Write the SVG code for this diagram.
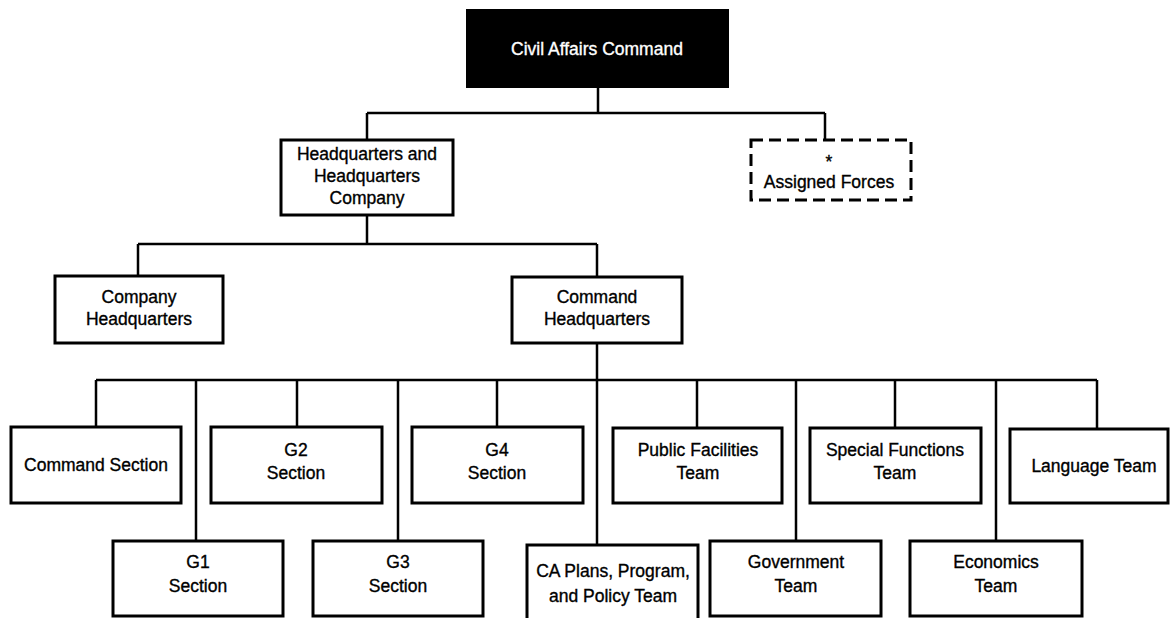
<svg xmlns="http://www.w3.org/2000/svg" width="1170" height="618" viewBox="0 0 1170 618">
  <style>
    .box { fill: #fff; stroke: #000; stroke-width: 3; }
    .dash { fill: #fff; stroke: #000; stroke-width: 3; stroke-dasharray: 12 6; }
    .top { fill: #000; stroke: #000; stroke-width: 2; }
    .lbl { font-family: "Liberation Sans", Arial, sans-serif; font-size: 17.5px; fill: #000; text-anchor: middle; stroke: #000; stroke-width: 0.35; }
    .lblw { font-family: "Liberation Sans", Arial, sans-serif; font-size: 17.5px; fill: #fff; text-anchor: middle; stroke: #fff; stroke-width: 0.35; }
    .conn { fill: none; stroke: #000; stroke-width: 2.5; }
  </style>
  <rect width="1170" height="618" fill="#fff"/>

  <!-- connectors -->
  <g id="connectors" class="conn">
    <path d="M598 87 V113 M367 113 H825 M367 113 V140 M825 113 V140"/>
    <path d="M367 215 V244 M138 244 H597 M138 244 V276 M597 244 V277"/>
    <path d="M597 343 V545 M96 380 H1097"/>
    <path d="M96 380 V427 M196 380 V541 M297 380 V427 M398 380 V541 M497 380 V427"/>
    <path d="M697 380 V428 M796 380 V541 M895 380 V428 M996 380 V541 M1097 380 V429"/>
  </g>

  <!-- level 1 -->
  <g id="civil-affairs-command">
    <rect class="top" x="467" y="10" width="261" height="77"/>
    <text class="lblw" x="597" y="55">Civil Affairs Command</text>
  </g>

  <!-- level 2 -->
  <g id="hhc">
    <rect class="box" x="281" y="140" width="172" height="75"/>
    <text class="lbl" x="367" y="160">Headquarters and</text>
    <text class="lbl" x="367" y="182">Headquarters</text>
    <text class="lbl" x="367" y="204">Company</text>
  </g>
  <g id="assigned-forces">
    <rect class="dash" x="751" y="140" width="160" height="60"/>
    <text class="lbl" x="829" y="168">*</text>
    <text class="lbl" x="829" y="188">Assigned Forces</text>
  </g>

  <!-- level 3 -->
  <g id="company-hq">
    <rect class="box" x="55" y="276" width="168" height="67"/>
    <text class="lbl" x="139" y="303">Company</text>
    <text class="lbl" x="139" y="325">Headquarters</text>
  </g>
  <g id="command-hq">
    <rect class="box" x="512" y="277" width="170" height="66"/>
    <text class="lbl" x="597" y="303">Command</text>
    <text class="lbl" x="597" y="325">Headquarters</text>
  </g>

  <!-- level 4, upper row -->
  <g id="command-section">
    <rect class="box" x="11" y="427" width="170" height="76"/>
    <text class="lbl" x="96" y="471">Command Section</text>
  </g>
  <g id="g2-section">
    <rect class="box" x="211" y="427" width="171" height="76"/>
    <text class="lbl" x="296" y="456">G2</text>
    <text class="lbl" x="296" y="479">Section</text>
  </g>
  <g id="g4-section">
    <rect class="box" x="412" y="427" width="171" height="76"/>
    <text class="lbl" x="497" y="456">G4</text>
    <text class="lbl" x="497" y="479">Section</text>
  </g>
  <g id="public-facilities-team">
    <rect class="box" x="613" y="428" width="169" height="75"/>
    <text class="lbl" x="698" y="456">Public Facilities</text>
    <text class="lbl" x="698" y="479">Team</text>
  </g>
  <g id="special-functions-team">
    <rect class="box" x="810" y="428" width="171" height="75"/>
    <text class="lbl" x="895" y="456">Special Functions</text>
    <text class="lbl" x="895" y="479">Team</text>
  </g>
  <g id="language-team">
    <rect class="box" x="1010" y="429" width="158" height="74"/>
    <text class="lbl" x="1094" y="472">Language Team</text>
  </g>

  <!-- level 4, lower row -->
  <g id="g1-section">
    <rect class="box" x="113" y="541" width="170" height="75"/>
    <text class="lbl" x="198" y="568">G1</text>
    <text class="lbl" x="198" y="592">Section</text>
  </g>
  <g id="g3-section">
    <rect class="box" x="313" y="541" width="170" height="75"/>
    <text class="lbl" x="398" y="568">G3</text>
    <text class="lbl" x="398" y="592">Section</text>
  </g>
  <g id="ca-plans-team">
    <rect class="box" x="527" y="545" width="171" height="78"/>
    <text class="lbl" x="613" y="577">CA Plans, Program,</text>
    <text class="lbl" x="613" y="602">and Policy Team</text>
  </g>
  <g id="government-team">
    <rect class="box" x="710" y="541" width="171" height="75"/>
    <text class="lbl" x="796" y="568">Government</text>
    <text class="lbl" x="796" y="592">Team</text>
  </g>
  <g id="economics-team">
    <rect class="box" x="910" y="541" width="172" height="75"/>
    <text class="lbl" x="996" y="568">Economics</text>
    <text class="lbl" x="996" y="592">Team</text>
  </g>
</svg>
